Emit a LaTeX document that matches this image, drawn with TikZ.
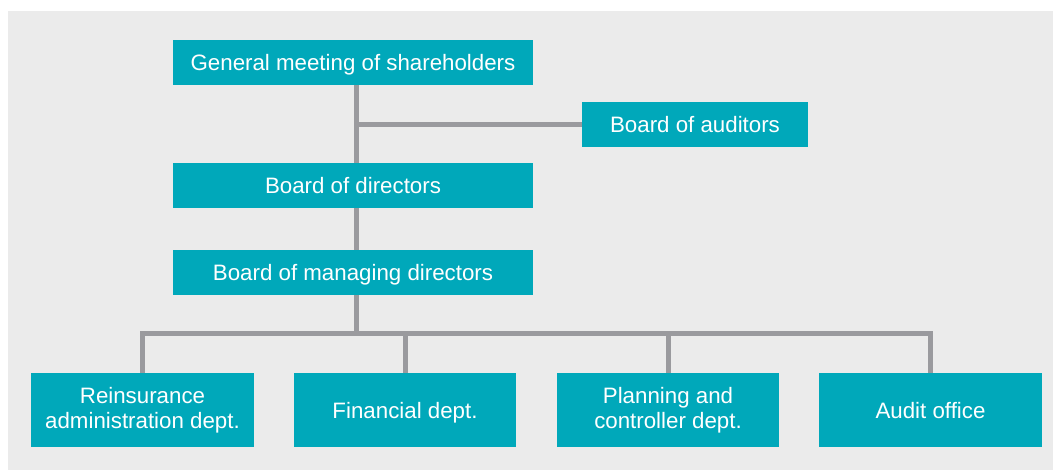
\documentclass[tikz,border=0pt]{standalone}
\usepackage{fontspec}
\setmainfont{Liberation Sans}
\usetikzlibrary{backgrounds}
\definecolor{teal}{RGB}{0,168,186}
\definecolor{linegrey}{RGB}{154,154,158}
\definecolor{bggrey}{RGB}{235,235,235}
\tikzset{
  basebox/.style={fill=teal, text=white, inner sep=0pt, align=center,
    font=\fontsize{22.3}{25.5}\selectfont, anchor=center},
  box/.style={basebox, text height=16pt, text depth=0pt},
  twoline/.style={basebox, yshift=1.5pt},
  conn/.style={draw=linegrey, line width=5pt, line join=miter},
}
\begin{document}
\begin{tikzpicture}[x=1pt,y=-1pt]
\useasboundingbox (0,0) rectangle (1053,470);
\node[box, minimum width=360pt, minimum height=45pt] (gm) at (353,62.5) {General meeting of shareholders};
\node[box, minimum width=226pt, minimum height=45pt] (ba) at (695,124.5) {Board of auditors};
\node[box, minimum width=360pt, minimum height=45pt] (bd) at (353,185.5) {Board of directors};
\node[box, minimum width=360pt, minimum height=45pt] (bmd) at (353,272.5) {Board of managing directors};
\node[basebox, minimum width=223pt, minimum height=74pt] (r1) at (142.5,410) {Reinsurance\\administration dept.};
\node[box, minimum width=222pt, minimum height=74pt] (r2) at (405,410) {Financial dept.};
\node[basebox, minimum width=222pt, minimum height=74pt] (r3) at (668,410) {Planning and\\controller dept.};
\node[box, minimum width=223pt, minimum height=74pt] (r4) at (930.5,410) {Audit office};
\coordinate (vx) at (356.5,0);
\coordinate (bus) at (0,334);
\begin{pgfonlayer}{background}
\fill[bggrey] (8,11) rectangle (1053,470);
\draw[conn] (gm.south -| vx) -- (bd.north -| vx);
\draw[conn] (ba.west) -- (ba.west -| vx);
\draw[conn] (bd.south -| vx) -- (bmd.north -| vx);
\draw[conn] (bmd.south -| vx) -- (vx |- bus);
\draw[conn] (r1.north) |- (r4.north |- bus) -- (r4.north);
\draw[conn] (r2.north) -- (r2.north |- bus);
\draw[conn] (r3.north) -- (r3.north |- bus);
\end{pgfonlayer}
\end{tikzpicture}
\end{document}
